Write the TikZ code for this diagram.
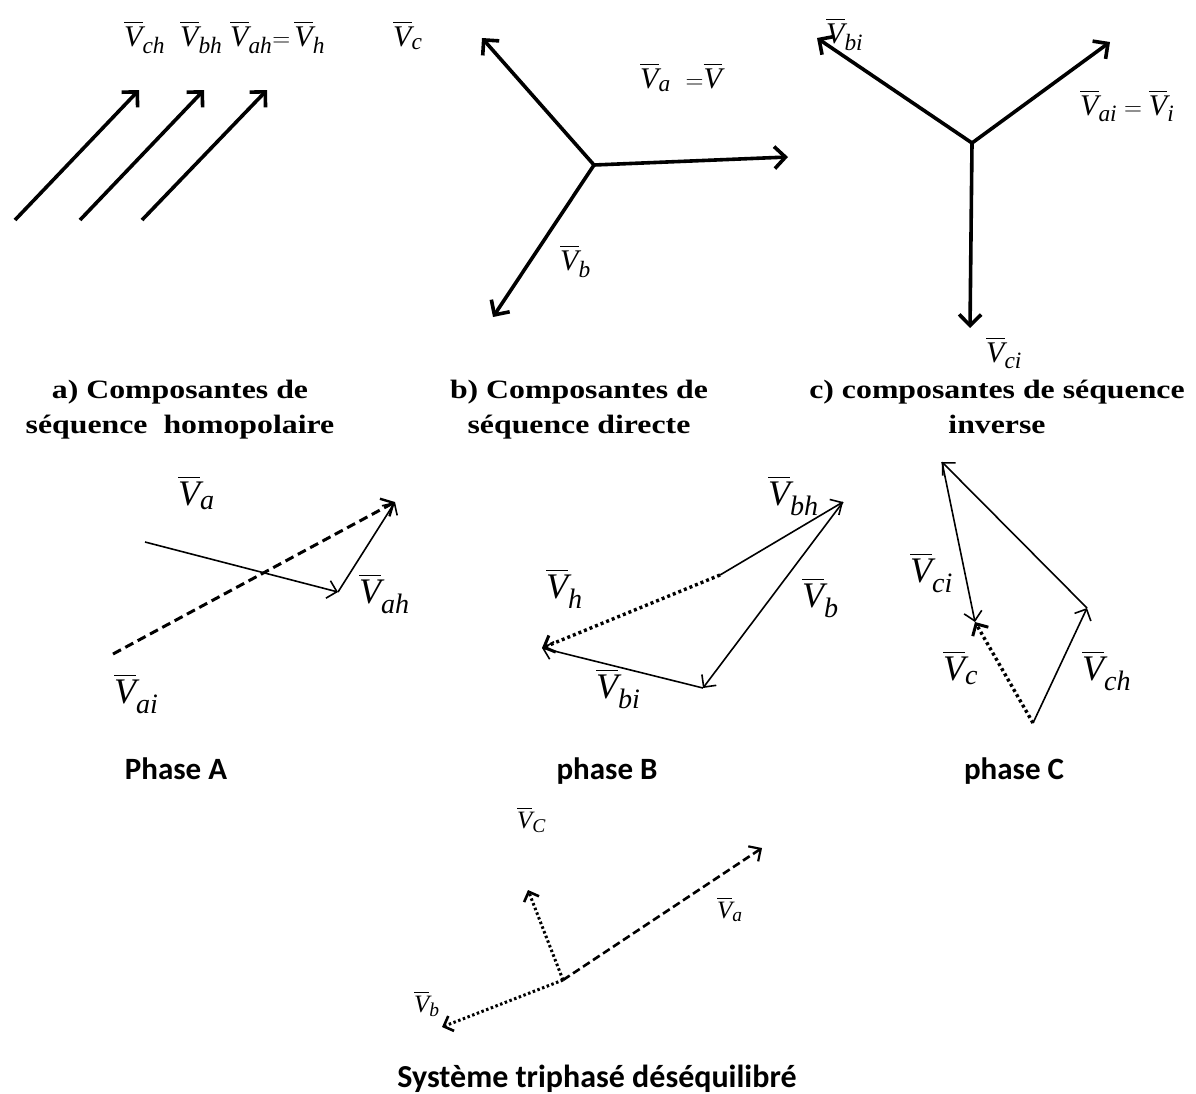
\documentclass[tikz,border=0pt]{standalone}
\usepackage{amsmath}
\usepackage{fontspec}
\setmainfont{Liberation Serif}
\newfontfamily\calib{Carlito}
\newfontfamily\ttlfont[FakeStretch=1.2]{Liberation Serif}
\usetikzlibrary{arrows.meta}
\renewcommand\defaultscriptratio{0.78}
\newcommand\vv[1]{\overline{\textit{V}}_{\textit{#1}}}
\newcommand\vvv{\overline{\textit{V}}}
\tikzset{
  big/.style={line width=3.6pt,-{Straight Barb[length=11pt,width=22pt,line width=3.6pt]}},
  thin/.style={line width=1.6pt,-{Straight Barb[length=9pt,width=18pt,line width=1.6pt]}},
  dashA/.style={line width=3pt,dash pattern=on 9pt off 5pt,-{Straight Barb[length=10pt,width=20pt,line width=2.4pt]}},
  dotB/.style={line width=3.4pt,dash pattern=on 3pt off 3pt,-{Straight Barb[length=9pt,width=18pt,line width=3pt]}},
  dashS/.style={line width=2.6pt,dash pattern=on 8pt off 4pt,-{Straight Barb[length=9pt,width=18pt,line width=2.2pt]}},
  dotS/.style={line width=3pt,dash pattern=on 2.5pt off 2.5pt,-{Straight Barb[length=8pt,width=16pt,line width=2.6pt]}},
  lbl/.style={inner sep=0pt,anchor=base west,font=\fontsize{30}{32}\selectfont},
  lblL/.style={inner sep=0pt,anchor=base west,font=\fontsize{36}{38}\selectfont},
  lblS/.style={inner sep=0pt,anchor=base west,font=\fontsize{25}{27}\selectfont},
  ttl/.style={inner sep=0pt,align=center,anchor=base,font=\ttlfont\fontsize{26.5}{35}\selectfont\bfseries},
  phs/.style={inner sep=0pt,anchor=base,font=\calib\fontsize{31}{33}\selectfont\bfseries},
}
\begin{document}
\begin{tikzpicture}[x=1pt,y=-1pt]
\useasboundingbox (0,0) rectangle (1196,1093);
% ---------- a) homopolaire
\coordinate (a1t) at (15,220); \coordinate (a1h) at (139,90);
\coordinate (a2t) at (80,220); \coordinate (a2h) at (204,90);
\coordinate (a3t) at (142,220); \coordinate (a3h) at (267,90);
\draw[big] (a1t) -- (a1h);
\draw[big] (a2t) -- (a2h);
\draw[big] (a3t) -- (a3h);
\node[lbl] (lch) at (124,46) {$\vv{ch}$};
\node[lbl] (lbh) at (180,46) {$\vv{bh}$};
\node[lbl] (lah) at (230,46) {$\vv{ah}{=}\,\vv{h}$};
\node[lbl] (lc) at (393,46) {$\vv{c}$};
% ---------- b) directe
\coordinate (bo) at (594,165);
\coordinate (bc) at (482,38);
\coordinate (ba) at (788,157);
\coordinate (bb) at (493,317);
\draw[big] (bo) -- (bc);
\draw[big] (bo) -- (ba);
\draw[big] (bo) -- (bb);
\node[lbl] (lva) at (640,88) {$\vv{a}\ \ {=}\vvv$};
\node[lbl] (lvb) at (560,270) {$\vv{b}$};
% ---------- c) inverse
\coordinate (co) at (972,143);
\coordinate (cb) at (817,38);
\coordinate (ca) at (1110,42);
\coordinate (cc) at (970,328);
\draw[big] (co) -- (cb);
\draw[big] (co) -- (ca);
\draw[big] (co) -- (cc);
\node[lbl] (lbi) at (826,43) {$\vv{bi}$};
\node[lbl] (lai) at (1080,115) {$\vv{ai}=\vv{i}$};
\node[lbl] (lci) at (986,362) {$\vv{ci}$};
% ---------- titles
\node[ttl] (ta) at (180,433) {a) Composantes de\\séquence\ \ homopolaire};
\node[ttl] (tb) at (579,433) {b) Composantes de\\séquence directe};
\node[ttl] (tc) at (997,433) {c) composantes de séquence\\inverse};
% ---------- Phase A
\coordinate (pa0) at (145,542);
\coordinate (pa1) at (338,592);
\coordinate (pa2) at (395,502);
\coordinate (pai) at (113,654);
\draw[thin] (pa0) -- (pa1);
\draw[thin] (pa1) -- (pa2);
\draw[dashA] (pai) -- (pa2);
\node[lblL] (lpa) at (178,505) {$\vv{a}$};
\node[lblL] (lpah) at (359,603) {$\vv{ah}$};
\node[lblL] (lpai) at (114,703) {$\vv{ai}$};
% ---------- Phase B
\coordinate (pb0) at (720,575);
\coordinate (pb1) at (843,502);
\coordinate (pb2) at (703,688);
\coordinate (pb3) at (542,648);
\draw[thin] (pb0) -- (pb1);
\draw[thin] (pb1) -- (pb2);
\draw[thin] (pb2) -- (pb3);
\draw[dotB] (pb0) -- (pb3);
\node[lblL] (lpbh) at (768,505) {$\vv{bh}$};
\node[lblL] (lph) at (546,598) {$\vv{h}$};
\node[lblL] (lpb) at (802,607) {$\vv{b}$};
\node[lblL] (lpbi) at (596,698) {$\vv{bi}$};
% ---------- Phase C
\coordinate (pc0) at (1033,723);
\coordinate (pc1) at (1087,608);
\coordinate (pc2) at (942,462);
\coordinate (pc3) at (975,622);
\draw[thin] (pc0) -- (pc1);
\draw[thin] (pc1) -- (pc2);
\draw[thin] (pc2) -- (pc3);
\draw[dotB] (pc0) -- (pc3);
\node[lblL] (lpci) at (910,582) {$\vv{ci}$};
\node[lblL] (lpc) at (943,680) {$\vv{c}$};
\node[lblL] (lpch) at (1082,680) {$\vv{ch}$};
% ---------- phase labels
\node[phs] (phA) at (176,779) {Phase A};
\node[phs] (phB) at (607,779) {phase B};
\node[phs] (phC) at (1014,779) {phase C};
% ---------- unbalanced system
\coordinate (so) at (563,980);
\coordinate (sa) at (762,848);
\coordinate (sc) at (528,890);
\coordinate (sb) at (442,1027);
\draw[dashS] (so) -- (sa);
\draw[dotS] (so) -- (sc);
\draw[dotS] (so) -- (sb);
\node[lblS] (lsc) at (517,828) {$\vv{C}$};
\node[lblS] (lsa) at (717,918) {$\vv{a}$};
\node[lblS] (lsb) at (414,1012) {$\vv{b}$};
\node[phs,font=\calib\fontsize{32}{34}\selectfont\bfseries] (tsys) at (597,1087) {Système triphasé déséquilibré};
\end{tikzpicture}
\end{document}
